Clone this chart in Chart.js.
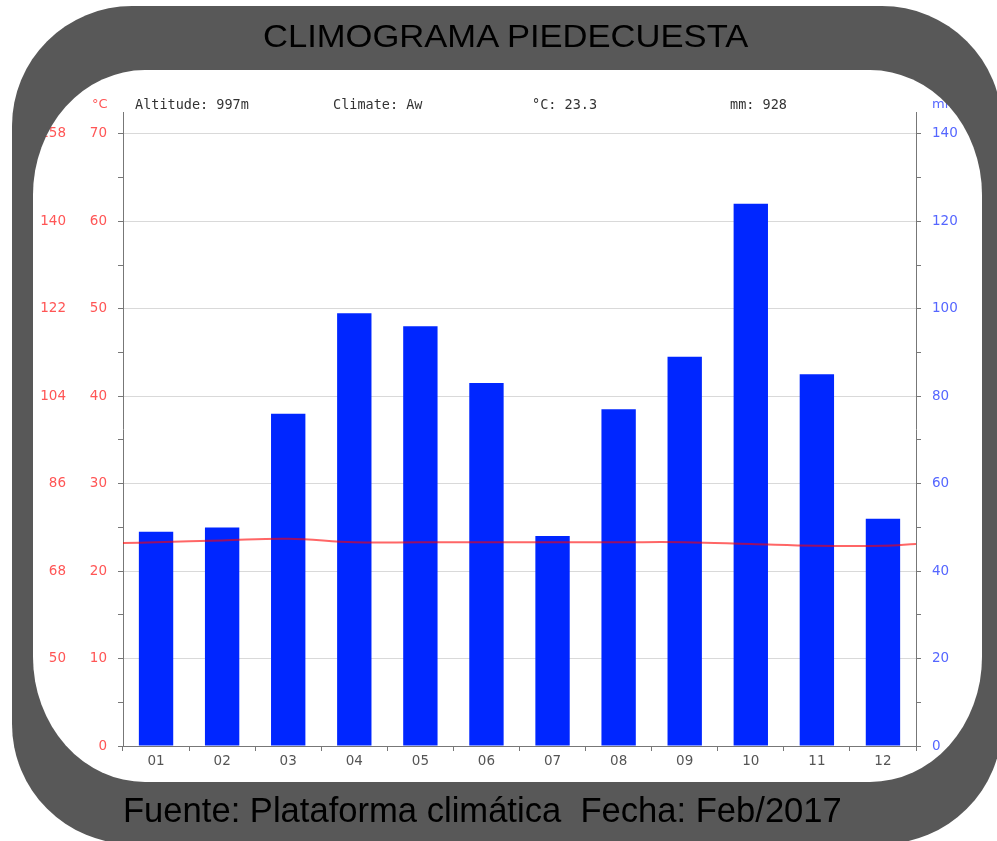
<!DOCTYPE html>
<html>
<head>
<meta charset="utf-8">
<script src="https://cdn.jsdelivr.net/npm/chart.js@4/dist/chart.umd.min.js"></script>
<style>
  html, body { margin: 0; padding: 0; background: #fff; }
  #wrap { position: relative; width: 997px; height: 841px; overflow: hidden; }
  #climoChart { position: absolute; left: 0; top: 0; }
  svg.frame { position: absolute; left: 0; top: 0; pointer-events: none; }
  .title { position: absolute; left: 0; width: 1012px; top: 19px; text-align: center;
           font: 31px "Liberation Sans", Arial, sans-serif; color: #000; }
  .title span { display: inline-block; transform: scaleX(1.115); }
  .footer { position: absolute; left: 123px; top: 791px; white-space: pre;
            font: 34.6px "Liberation Sans", Arial, sans-serif; color: #000; }
  .hdr { position: absolute; top: 96px; white-space: pre;
         font: 13.5px "DejaVu Sans Mono", monospace; color: #333; }
  .unit { position: absolute; top: 96px; font: 13px "DejaVu Sans", sans-serif; }
</style>
</head>
<body>
<div id="wrap">
  <canvas id="climoChart" width="997" height="841"></canvas>
  <span class="unit" style="left:92px;color:#ff5555">°C</span>
  <span class="unit" style="left:932px;color:#5566ff">mm</span>
  <span class="hdr" style="left:135px">Altitude: 997m</span>
  <span class="hdr" style="left:333px">Climate: Aw</span>
  <span class="hdr" style="left:532px">°C: 23.3</span>
  <span class="hdr" style="left:730px">mm: 928</span>
  <svg class="frame" width="997" height="841">
    <defs>
      <mask id="hole">
        <rect x="0" y="0" width="997" height="841" fill="#fff"/>
        <rect x="33" y="70" width="949" height="712" rx="112" ry="125" fill="#000"/>
      </mask>
    </defs>
    <rect x="12" y="6" width="990" height="838" rx="120" ry="120" fill="#585858" mask="url(#hole)"/>
  </svg>
  <div class="title"><span>CLIMOGRAMA PIEDECUESTA</span></div>
  <div class="footer">Fuente: Plataforma climática  Fecha: Feb/2017</div>
</div>
<script>
// Climograma Piedecuesta: monthly rain (bars, mm) and mean temperature (line, °C).
const months = ["01", "02", "03", "04", "05", "06", "07", "08", "09", "10", "11", "12"];
const precipMm = [49, 50, 76, 99, 96, 83, 48, 77, 89, 124, 85, 52];
const tempC = [23.3, 23.5, 23.7, 23.3, 23.3, 23.3, 23.3, 23.3, 23.3, 23.1, 22.9, 22.9];
// the temperature curve runs on to both plot edges; values read at the edges
const tempEdgeC = [23.2, 23.1];
// outer left column, one label per 10 °C (no label at 0)
const fahrenheitLabels = ["", "50", "68", "86", "104", "122", "140", "158"];

const RED = "#ff5555";
const BLUE = "#5566ff";
const AXIS = "#777";

const tempPoints = [{ x: 0, y: tempEdgeC[0] }]
  .concat(tempC.map((t, i) => ({ x: i + 0.5, y: t })))
  .concat([{ x: months.length, y: tempEdgeC[1] }]);

const tickFont = { family: "DejaVu Sans", size: 13.5 };
const keepSteps = (step) => (s) => { s.ticks = s.ticks.filter((t) => t.value % step === 0); };

new Chart(document.getElementById("climoChart"), {
  type: "bar",
  data: {
    labels: months,
    datasets: [
      {
        type: "line",
        data: tempPoints,
        xAxisID: "xl",
        yAxisID: "yC",
        borderColor: "rgba(255,0,0,0.6)",
        borderWidth: 2,
        pointRadius: 0,
        tension: 0.4,
        fill: false,
        order: 0,
      },
      {
        type: "bar",
        data: precipMm,
        xAxisID: "x",
        yAxisID: "yMm",
        backgroundColor: "#0026ff",
        grouped: false,
        barPercentage: 0.52,
        categoryPercentage: 1,
        order: 1,
      },
    ],
  },
  options: {
    responsive: false,
    animation: false,
    devicePixelRatio: 1,
    layout: { padding: { left: 0, top: 112, right: 21, bottom: 65 } },
    plugins: { legend: { display: false }, tooltip: { enabled: false } },
    scales: {
      x: {
        type: "category",
        offset: true,
        border: { color: AXIS },
        grid: { drawOnChartArea: false, tickLength: 5, tickColor: AXIS, offset: true },
        ticks: { color: "#555", font: tickFont, padding: 2, maxRotation: 0 },
        afterFit: (s) => { s.height = 30; },
      },
      xl: { type: "linear", display: false, offset: false, min: 0, max: months.length },
      yC: {
        position: "left",
        weight: 0,
        min: 0,
        max: 72.5,
        border: { color: AXIS },
        grid: {
          color: (c) => (c.tick && c.tick.value % 10 === 0 ? "#d9d9d9" : "rgba(0,0,0,0)"),
          tickLength: 5,
          tickColor: AXIS,
        },
        ticks: {
          stepSize: 5,
          color: RED,
          font: tickFont,
          padding: 11,
          callback: (v) => (v % 10 === 0 ? String(v) : ""),
        },
        afterBuildTicks: keepSteps(5),
        afterFit: (s) => { s.width = 40; },
      },
      yF: {
        position: "left",
        weight: 1,
        min: 0,
        max: 72.5,
        border: { display: false },
        grid: { display: false, drawTicks: false },
        ticks: {
          stepSize: 10,
          color: RED,
          font: tickFont,
          padding: 17,
          callback: (v) => fahrenheitLabels[v / 10] || "",
        },
        afterBuildTicks: keepSteps(10),
        afterFit: (s) => { s.width = 83; },
      },
      yMm: {
        position: "right",
        min: 0,
        max: 145,
        border: { color: AXIS },
        grid: { drawOnChartArea: false, tickLength: 5, tickColor: AXIS },
        ticks: {
          stepSize: 10,
          color: BLUE,
          font: tickFont,
          padding: 11,
          callback: (v) => (v % 20 === 0 ? String(v) : ""),
        },
        afterBuildTicks: keepSteps(10),
        afterFit: (s) => { s.width = 60; },
      },
    },
  },
});
</script>
</body>
</html>
